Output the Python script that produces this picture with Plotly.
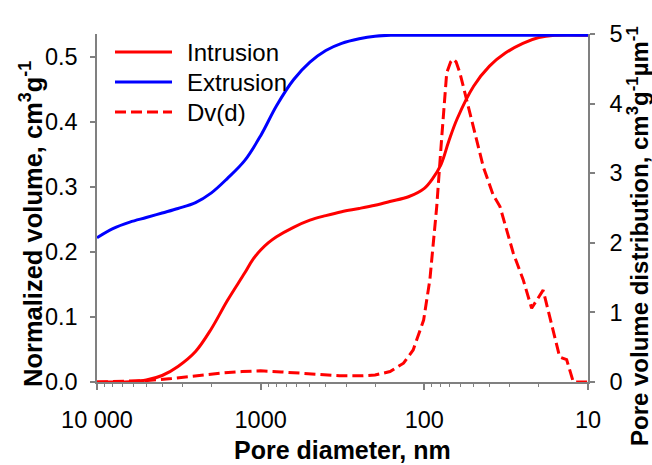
import plotly.graph_objects as go

# Mercury porosimetry: pore diameter (nm) vs normalized volume (cm3/g)
intrusion_d = [10000, 8000, 6300, 5000, 4000, 3200, 2500, 2000, 1600, 1250, 1120, 1000, 900, 800,
               630, 500, 400, 320, 250, 200, 160, 125, 100, 89, 79, 71, 63, 50, 40, 32, 25, 20,
               16, 10]
intrusion_v = [0.0, 0.0, 0.0005, 0.003, 0.010, 0.024, 0.047, 0.082, 0.125, 0.168, 0.188, 0.203,
               0.214, 0.2235, 0.238, 0.249, 0.256, 0.262, 0.267, 0.272, 0.278, 0.285, 0.298,
               0.313, 0.335, 0.370, 0.405, 0.455, 0.486, 0.506, 0.521, 0.530, 0.5335, 0.5335]

extrusion_d = [10000, 8000, 6300, 5000, 4000, 3200, 2500, 2000, 1600, 1250, 1000, 800, 630, 500,
               400, 320, 250, 200, 160, 125, 100, 10]
extrusion_v = [0.222, 0.236, 0.246, 0.253, 0.260, 0.267, 0.276, 0.291, 0.313, 0.341, 0.379,
               0.425, 0.465, 0.492, 0.510, 0.521, 0.528, 0.532, 0.5335, 0.5335, 0.5335, 0.5335]

# Pore volume distribution Dv(d), cm3/g/um
dv_d = [10000, 7000, 5000, 3500, 2500, 1700, 1300, 1000, 750, 500, 330, 240, 200, 162, 134, 117,
        101, 92.5, 84, 78.5, 73, 69, 66.6, 64, 60.6, 52.6, 43.6, 38, 34.5, 28.6, 24.9, 22.1,
        18.8, 14.9, 13.5, 12.3, 10]
dv_v = [0.0, 0.005, 0.02, 0.05, 0.09, 0.13, 0.15, 0.16, 0.145, 0.115, 0.09, 0.09, 0.10, 0.15,
        0.27, 0.46, 0.89, 1.47, 2.52, 3.48, 4.44, 4.60, 4.64, 4.60, 4.44, 3.86, 3.09, 2.69,
        2.52, 1.85, 1.47, 1.06, 1.32, 0.36, 0.32, 0.0, 0.0]

x_tickvals = [10000, 1000, 100, 10]
x_ticktext = ["10 000", "1000", "100", "10"]
x_minorvals = [v * m for v in (1000, 100, 10) for m in range(2, 10)]
y_tickvals = [0.0, 0.1, 0.2, 0.3, 0.4, 0.5]
y_ticktext = ["0.0", "0.1", "0.2", "0.3", "0.4", "0.5"]
y2_tickvals = [0, 1, 2, 3, 4, 5]

series_names = ["Intrusion", "Extrusion", "Dv(d)"]

RED = "#ff0000"
BLUE = "#0000ff"
AXIS = "#808080"
FONT = "Liberation Sans, Arial, sans-serif"
DASH = "11px,5px"

fig = go.Figure()
fig.add_trace(go.Scatter(x=intrusion_d, y=intrusion_v, mode="lines", name=series_names[0],
                         line=dict(color=RED, width=3, shape="spline", smoothing=1.0),
                         showlegend=False))
fig.add_trace(go.Scatter(x=extrusion_d, y=extrusion_v, mode="lines", name=series_names[1],
                         line=dict(color=BLUE, width=3, shape="spline", smoothing=1.0),
                         showlegend=False))
fig.add_trace(go.Scatter(x=dv_d, y=dv_v, mode="lines", name=series_names[2], yaxis="y2",
                         line=dict(color=RED, width=3, dash=DASH),
                         showlegend=False))

W, H = 652, 465
L, R, T, B = 97, 64, 34, 83
pw, ph = W - L - R, H - T - B


def px_x(x):
    return (x - L) / pw


def px_y(y):
    return (H - B - y) / ph


axis_common = dict(showline=True, linecolor=AXIS, linewidth=1.5, ticks="outside",
                   tickcolor=AXIS, tickwidth=1.5, showgrid=False, zeroline=False,
                   tickfont=dict(family=FONT, size=23.5, color="black"))

fig.update_layout(
    width=W, height=H,
    margin=dict(l=L, r=R, t=T, b=B),
    paper_bgcolor="white", plot_bgcolor="white",
    font=dict(family=FONT, color="black"),
    xaxis=dict(type="log", range=[4, 1], tickvals=x_tickvals, ticktext=x_ticktext,
               ticklen=6, ticklabelstandoff=10,
               minor=dict(tickvals=x_minorvals, ticks="outside", ticklen=3,
                          tickcolor=AXIS, tickwidth=1, showgrid=False),
               **axis_common),
    yaxis=dict(range=[0, 0.5354], tickvals=y_tickvals, ticktext=y_ticktext,
               ticklen=5, ticklabelstandoff=8, **axis_common),
    yaxis2=dict(range=[0, 5], tickvals=y2_tickvals, overlaying="y", side="right",
                ticklen=5, ticklabelstandoff=10, **axis_common),
)

# Axis titles
fig.add_annotation(text="<b>Pore diameter, nm</b>", xref="paper", yref="paper",
                   x=0.5, y=px_y(450), xanchor="center", yanchor="middle",
                   showarrow=False, font=dict(family=FONT, size=25, color="black"))
fig.add_annotation(text="<b>Normalized volume, cm<sup>3</sup>g<sup>-1</sup></b>",
                   xref="paper", yref="paper", x=px_x(31), y=px_y(224),
                   xanchor="center", yanchor="middle", textangle=-90,
                   showarrow=False, font=dict(family=FONT, size=25.5, color="black"))
fig.add_annotation(text="<b>Pore volume distribution, cm<sup>3</sup>g<sup>-1</sup>µm<sup>-1</sup></b>",
                   xref="paper", yref="paper", x=px_x(638), y=px_y(236),
                   xanchor="center", yanchor="middle", textangle=-90,
                   showarrow=False, font=dict(family=FONT, size=24, color="black"))

# Legend drawn inside the plot area, upper left
legend_rows = [(series_names[0], RED, "solid", 52),
               (series_names[1], BLUE, "solid", 82),
               (series_names[2], RED, DASH, 112)]
for name, color, dash, yc in legend_rows:
    fig.add_shape(type="line", xref="paper", yref="paper",
                  x0=px_x(115), x1=px_x(172), y0=px_y(yc), y1=px_y(yc),
                  line=dict(color=color, width=3, dash=dash))
    fig.add_annotation(text=name, xref="paper", yref="paper", x=px_x(185), y=px_y(yc),
                       xanchor="left", yanchor="middle", showarrow=False,
                       font=dict(family=FONT, size=24, color="black"))

fig.write_html("out.html")
